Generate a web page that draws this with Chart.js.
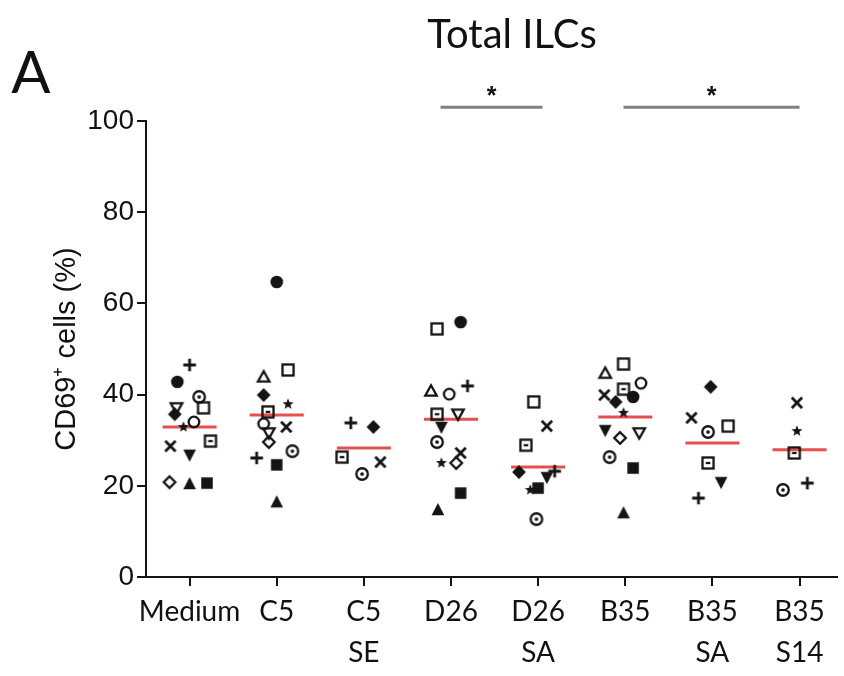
<!DOCTYPE html>
<html>
<head>
<meta charset="utf-8">
<script src="https://cdn.jsdelivr.net/npm/chart.js@4.4.1/dist/chart.umd.min.js"></script>
<style>
  html, body { margin: 0; padding: 0; background: #fff; }
  canvas { display: block; }
</style>
</head>
<body>
<canvas id="chart" width="844" height="676"></canvas>
<script>
// groups on the x axis
const categories = ["Medium", "C5", "C5\nSE", "D26", "D26\nSA", "B35", "B35\nSA", "B35\nS14"];

// one array per donor (each donor keeps its own marker), one value per group
const fcircle = [42.8, 64.7, null, 55.9, null, 39.5, null, null];
const ocircle = [34.0, 33.6, null, 40.1, null, 42.5, null, null];
const osquare = [37.1, 45.4, null, 54.4, 38.4, 46.7, 33.1, null];
const fsquare = [20.6, 24.6, null, 18.4, 19.5, 23.9, null, null];
const otri    = [null, 43.9, null, 40.8, null, 44.7, null, null];
const ftri    = [20.4, 16.4, null, 14.7, null, 14.0, null, null];
const odtri   = [37.1, 31.6, null, 35.7, null, 31.6, null, null];
const fdtri   = [26.8, null, null, 32.9, 21.9, 32.2, 20.8, null];
const odiam   = [20.8, 29.6, null, 25.0, null, 30.5, null, null];
const fdiam   = [35.7, 39.9, 32.9, null, 23.0, 38.4, 41.7, null];
const cross   = [28.7, 32.9, 25.2, 27.2, 33.1, 39.9, 34.9, 38.2];
const plus    = [46.5, 26.1, 33.8, 41.9, 23.2, null, 17.3, 20.6];
const star    = [32.9, 37.9, null, 25.0, 19.1, 36.0, null, 32.0];
const dcircle = [39.5, 27.6, 22.6, 29.6, 12.7, 26.3, 31.8, 19.1];
const dsquare = [29.8, 36.2, 26.3, 35.7, 28.9, 41.2, 25.0, 27.2];

// red line per group
const medians = [32.9, 35.5, 28.3, 34.6, 24.1, 35.1, 29.4, 27.9];

const yTicks = [0, 20, 40, 60, 80, 100];

// significance bars: group index from / to
const sigFrom = [2.88, 4.98];
const sigTo = [4.05, 7.0];
const sigText = ["*", "*"];

// horizontal scatter of the markers inside each group (layout only)
const spread = {
  fcircle: [-0.14, 0, 0, 0.11, 0, 0.09, 0, 0],
  ocircle: [0.05, -0.15, 0, -0.02, 0, 0.18, 0, 0],
  osquare: [0.16, 0.13, 0, -0.16, -0.05, -0.02, 0.18, 0],
  fsquare: [0.2, 0, 0, 0.11, 0, 0.09, 0, 0],
  otri:    [0, -0.15, 0, -0.23, 0, -0.23, 0, 0],
  ftri:    [0, 0, 0, -0.15, 0, -0.02, 0, 0],
  odtri:   [-0.15, -0.09, 0, 0.08, 0, 0.16, 0, 0],
  fdtri:   [0, 0, 0, -0.11, 0.1, -0.23, 0.1, 0],
  odiam:   [-0.23, -0.09, 0, 0.06, 0, -0.06, 0, 0],
  fdiam:   [-0.17, -0.15, 0.11, 0, -0.22, -0.11, -0.02, 0],
  cross:   [-0.22, 0.11, 0.19, 0.11, 0.1, -0.24, -0.24, -0.03],
  plus:    [0, -0.23, -0.15, 0.19, 0.19, 0, -0.16, 0.09],
  star:    [-0.07, 0.13, 0, -0.11, -0.09, -0.02, 0, -0.03],
  dcircle: [0.11, 0.18, -0.02, -0.16, -0.02, -0.18, -0.05, -0.19],
  dsquare: [0.24, -0.1, -0.25, -0.16, -0.14, -0.02, -0.05, -0.06]
};

const donors = { fcircle, ocircle, osquare, fsquare, otri, ftri, odtri, fdtri,
                 odiam, fdiam, cross, plus, star, dcircle, dsquare };

const INK = "#141414";

// little canvases used as point styles
function marker(kind) {
  const c = document.createElement("canvas");
  c.width = 18; c.height = 18;
  const g = c.getContext("2d");
  g.translate(9, 9);
  g.scale(1.15, 1.15);
  g.strokeStyle = INK;
  g.fillStyle = INK;
  g.lineWidth = 2;
  const poly = (pts, fill) => {
    g.beginPath();
    pts.forEach((p, i) => i ? g.lineTo(p[0], p[1]) : g.moveTo(p[0], p[1]));
    g.closePath();
    fill ? g.fill() : g.stroke();
  };
  switch (kind) {
    case "fcircle": g.beginPath(); g.arc(0, 0, 5.5, 0, Math.PI * 2); g.fill(); break;
    case "ocircle": g.beginPath(); g.arc(0, 0, 4.6, 0, Math.PI * 2); g.stroke(); break;
    case "dcircle":
      g.beginPath(); g.arc(0, 0, 5, 0, Math.PI * 2); g.stroke();
      g.beginPath(); g.arc(0, 0, 1.6, 0, Math.PI * 2); g.fill(); break;
    case "osquare": g.strokeRect(-4.8, -4.8, 9.6, 9.6); break;
    case "dsquare": g.strokeRect(-4.8, -4.8, 9.6, 9.6); g.fillRect(-2, -1, 4, 2); break;
    case "fsquare": g.fillRect(-5, -5, 10, 10); break;
    case "otri": poly([[0, -5], [5, 4], [-5, 4]], false); break;
    case "ftri": poly([[0, -6], [5.5, 4.5], [-5.5, 4.5]], true); break;
    case "odtri": poly([[0, 5], [5, -4], [-5, -4]], false); break;
    case "fdtri": poly([[0, 6], [5.5, -4.5], [-5.5, -4.5]], true); break;
    case "odiam": poly([[0, -5], [5, 0], [0, 5], [-5, 0]], false); break;
    case "fdiam": poly([[0, -6], [6, 0], [0, 6], [-6, 0]], true); break;
    case "cross":
      g.lineWidth = 2.4; g.beginPath();
      g.moveTo(-4.5, -4.5); g.lineTo(4.5, 4.5); g.moveTo(-4.5, 4.5); g.lineTo(4.5, -4.5);
      g.stroke(); break;
    case "plus":
      g.lineWidth = 2.4; g.beginPath();
      g.moveTo(-5.5, 0); g.lineTo(5.5, 0); g.moveTo(0, -5.5); g.lineTo(0, 5.5);
      g.stroke(); break;
    case "star": {
      const pts = [];
      for (let i = 0; i < 10; i++) {
        const r = i % 2 ? 2.2 : 5;
        const a = -Math.PI / 2 + i * Math.PI / 5;
        pts.push([r * Math.cos(a), r * Math.sin(a)]);
      }
      poly(pts, true); break;
    }
  }
  return c;
}

const datasets = [];

Object.keys(donors).forEach((name) => {
  const img = marker(name);
  const pts = [];
  donors[name].forEach((v, i) => {
    if (v !== null) pts.push({ x: i + spread[name][i], y: v });
  });
  datasets.push({
    type: "scatter",
    label: name,
    data: pts,
    pointStyle: img,
    pointRadius: 6,
    order: 0
  });
});

medians.forEach((m, i) => {
  datasets.push({
    type: "line",
    label: "median " + categories[i],
    data: [{ x: i - 0.31, y: m }, { x: i + 0.31, y: m }],
    borderColor: "rgba(226, 60, 60, 0.9)",
    borderWidth: 3,
    pointRadius: 0,
    fill: false,
    order: 1
  });
});

// title, panel letter and significance bars
const extras = {
  id: "extras",
  afterDraw(chart) {
    const { ctx, scales } = chart;
    const x = scales.x, y = scales.y;
    ctx.save();
    ctx.fillStyle = "#111";
    ctx.textAlign = "center";
    ctx.textBaseline = "middle";
    ctx.font = "40px Lato";
    ctx.fillText("Total ILCs", 512, 35);
    ctx.font = "58px Lato";
    ctx.fillText("A", 31, 74);

    ctx.strokeStyle = "#808080";
    ctx.lineWidth = 3;
    sigFrom.forEach((f, i) => {
      const x0 = x.getPixelForValue(f), x1 = x.getPixelForValue(sigTo[i]);
      const yy = y.getPixelForValue(103);
      ctx.beginPath();
      ctx.moveTo(x0, yy); ctx.lineTo(x1, yy);
      ctx.stroke();
      ctx.font = "bold 25px 'Liberation Sans'";
      ctx.fillText(sigText[i], (x0 + x1) / 2, yy - 10);
    });
    ctx.restore();
  }
};

new Chart(document.getElementById("chart"), {
  data: { datasets },
  options: {
    responsive: false,
    devicePixelRatio: 1,
    animation: false,
    layout: { padding: { top: 121, right: 0, bottom: 0, left: 0 } },
    plugins: { legend: { display: false }, tooltip: { enabled: false } },
    scales: {
      x: {
        type: "linear",
        min: -0.5,
        max: 7.43,
        afterBuildTicks: (s) => { s.ticks = categories.map((c, i) => ({ value: i })); },
        afterFit: (s) => { s.height = 99; },
        border: { display: true, color: INK, width: 2 },
        grid: { display: true, drawOnChartArea: false, drawTicks: true, tickLength: 9, color: INK, lineWidth: 2 },
        ticks: {
          autoSkip: false,
          maxRotation: 0,
          padding: 6,
          color: "#111",
          font: { family: "Lato", size: 28, lineHeight: 1.45 },
          callback: (v) => categories[v] ? categories[v].split("\n") : ""
        }
      },
      y: {
        min: 0,
        max: 100,
        afterBuildTicks: (s) => { s.ticks = yTicks.map((v) => ({ value: v })); },
        afterFit: (s) => { s.width = 146; },
        border: { display: true, color: INK, width: 2 },
        grid: { display: true, drawOnChartArea: false, drawTicks: true, tickLength: 9, color: INK, lineWidth: 2 },
        ticks: {
          padding: 3,
          color: "#111",
          font: { family: "Liberation Sans", size: 28 }
        },
        title: {
          display: true,
          text: "CD69\u207A cells (%)",
          color: "#111",
          font: { family: "Liberation Sans", size: 29 },
          padding: { top: 50, bottom: 0 }
        }
      }
    }
  },
  plugins: [extras]
});
</script>
</body>
</html>
